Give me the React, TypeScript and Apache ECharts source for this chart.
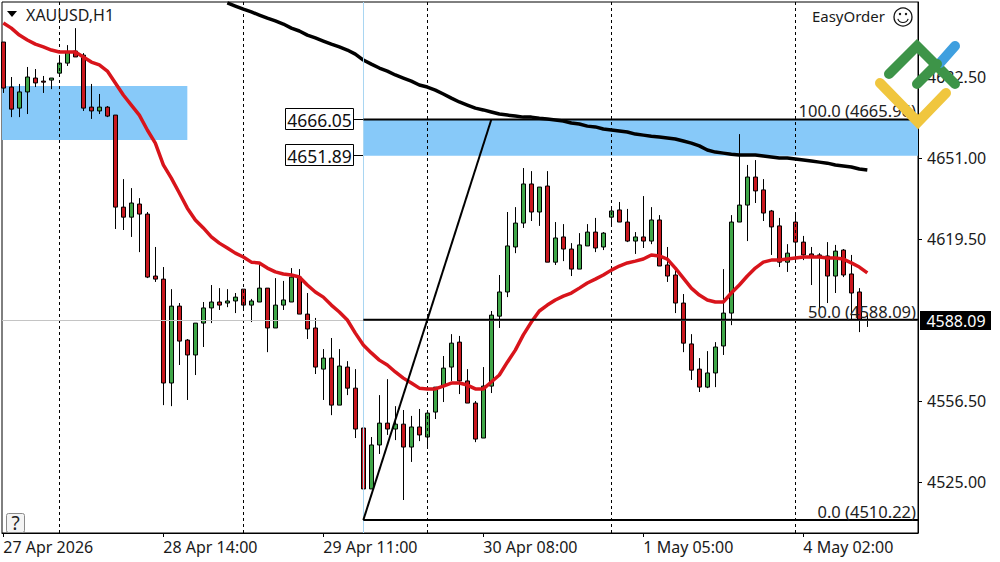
import React, { useEffect, useRef } from 'react';
import * as echarts from 'echarts';

const FONT = '"Noto Sans", sans-serif';

// hourly candles
const opens = [
  4696.1, 4678.6, 4670.4, 4676.7, 4682.1, 4680.9, 4681.3, 4684.0, 4687.9, 4692.6,
  4691.0, 4670.8, 4669.3, 4670.8, 4667.7, 4631.9, 4628.0, 4633.1, 4629.2, 4605.1,
  4603.9, 4563.5, 4593.4, 4580.2, 4574.4, 4586.8, 4592.7, 4595.0, 4594.6, 4595.4,
  4600.0, 4593.8, 4595.0, 4600.4, 4584.9, 4593.8, 4595.0, 4604.7, 4590.3, 4584.9,
  4568.9, 4573.2, 4554.9, 4569.7, 4561.5, 4546.0, 4522.3, 4539.4, 4547.9, 4545.6,
  4547.5, 4538.6, 4546.4, 4542.5, 4552.2, 4562.3, 4569.7, 4579.4, 4564.3, 4555.7,
  4542.1, 4562.3, 4589.5, 4598.9, 4616.4, 4625.7, 4640.9, 4630.0, 4640.1, 4610.5,
  4620.3, 4615.6, 4607.8, 4616.8, 4622.2, 4616.4, 4628.0, 4630.8, 4626.1, 4618.7,
  4620.3, 4618.7, 4626.9, 4609.4, 4605.5, 4594.6, 4578.7, 4568.9, 4561.9, 4567.4,
  4577.9, 4590.7, 4626.1, 4632.7, 4643.6, 4638.6, 4630.4, 4624.6, 4610.5, 4626.1,
  4618.3, 4613.7, 4613.3, 4612.9, 4605.1, 4615.2, 4605.9, 4598.9, 4588.09,
];
const closes = [
  4678.2, 4670.0, 4676.7, 4682.5, 4680.2, 4680.5, 4682.1, 4687.9, 4692.2, 4690.3,
  4670.4, 4669.3, 4670.8, 4667.3, 4631.9, 4628.0, 4633.5, 4629.2, 4604.7, 4603.9,
  4563.5, 4593.4, 4579.8, 4574.4, 4586.8, 4592.7, 4595.0, 4593.8, 4595.4, 4596.9,
  4593.8, 4595.4, 4600.4, 4584.9, 4593.8, 4595.8, 4604.7, 4590.3, 4584.5, 4569.7,
  4573.2, 4554.9, 4570.1, 4561.5, 4545.6, 4522.3, 4539.4, 4547.9, 4545.6, 4547.5,
  4538.6, 4546.4, 4543.3, 4551.8, 4561.9, 4569.3, 4579.0, 4564.3, 4555.7, 4541.7,
  4562.3, 4589.9, 4598.9, 4616.8, 4625.7, 4640.9, 4630.0, 4639.7, 4610.5, 4619.9,
  4615.6, 4607.8, 4617.2, 4622.2, 4616.0, 4621.8, 4630.4, 4626.1, 4618.7, 4620.3,
  4618.7, 4626.9, 4609.0, 4605.1, 4594.6, 4579.0, 4568.5, 4561.9, 4567.4, 4577.5,
  4590.7, 4626.1, 4632.7, 4643.6, 4638.2, 4629.6, 4624.2, 4610.5, 4614.0, 4618.3,
  4613.3, 4612.5, 4612.9, 4605.1, 4614.8, 4605.5, 4598.5, 4588.0, 4588.09,
];
const lows = [
  4676.3, 4666.9, 4666.9, 4668.1, 4678.6, 4676.3, 4677.8, 4682.5, 4686.8, 4690.3,
  4669.3, 4666.2, 4668.1, 4666.9, 4623.4, 4623.0, 4620.3, 4614.4, 4604.3, 4602.8,
  4554.9, 4554.5, 4570.5, 4556.9, 4566.6, 4577.5, 4586.8, 4591.9, 4593.0, 4590.7,
  4591.9, 4587.2, 4595.0, 4575.5, 4584.9, 4591.9, 4595.0, 4590.3, 4580.6, 4567.0,
  4556.9, 4551.0, 4554.9, 4558.8, 4542.1, 4510.2, 4522.3, 4535.9, 4543.3, 4541.3,
  4518.0, 4532.8, 4540.9, 4538.2, 4549.5, 4556.1, 4564.3, 4559.2, 4555.7, 4540.5,
  4542.1, 4559.6, 4584.9, 4596.9, 4614.0, 4623.8, 4626.5, 4624.6, 4610.5, 4609.4,
  4610.9, 4605.1, 4607.8, 4616.8, 4614.4, 4615.2, 4624.2, 4626.1, 4618.3, 4613.7,
  4616.0, 4617.5, 4609.0, 4602.8, 4590.7, 4575.5, 4564.7, 4560.0, 4561.5, 4561.9,
  4574.4, 4586.0, 4626.1, 4618.7, 4633.5, 4626.5, 4613.3, 4608.6, 4606.7, 4611.3,
  4611.3, 4601.6, 4592.7, 4594.6, 4598.5, 4604.7, 4588.0, 4583.3, 4585.3,
];
const highs = [
  4696.1, 4682.5, 4679.8, 4686.4, 4685.6, 4682.9, 4682.1, 4691.0, 4694.9, 4701.5,
  4691.8, 4679.8, 4675.9, 4671.2, 4667.7, 4642.8, 4639.3, 4635.4, 4630.0, 4616.4,
  4608.6, 4600.0, 4594.6, 4580.6, 4586.8, 4595.0, 4601.6, 4600.4, 4600.0, 4598.5,
  4600.0, 4596.2, 4610.5, 4600.4, 4604.3, 4603.2, 4608.2, 4607.8, 4598.5, 4588.8,
  4576.7, 4581.0, 4576.7, 4572.0, 4568.9, 4553.4, 4542.5, 4558.8, 4565.0, 4554.5,
  4553.0, 4550.7, 4553.4, 4551.8, 4561.9, 4574.0, 4582.5, 4581.8, 4568.9, 4556.5,
  4569.7, 4591.5, 4605.5, 4630.0, 4631.9, 4647.1, 4645.9, 4639.7, 4645.9, 4626.1,
  4625.3, 4617.9, 4621.8, 4625.3, 4627.7, 4622.2, 4631.5, 4633.9, 4631.2, 4622.2,
  4636.2, 4631.9, 4628.8, 4616.4, 4607.8, 4598.1, 4582.5, 4573.2, 4575.9, 4579.4,
  4607.8, 4628.8, 4660.3, 4648.3, 4650.2, 4642.8, 4630.8, 4627.7, 4617.5, 4630.0,
  4620.7, 4616.4, 4614.0, 4618.3, 4617.2, 4615.6, 4613.3, 4600.4, 4589.9,
];

// fast moving average (red)
const redMa = [
  4703.5, 4701.5, 4698.8, 4696.9, 4695.3, 4694.2, 4693.0, 4692.2, 4692.2, 4692.2,
  4690.3, 4688.3, 4687.2, 4684.8, 4680.2, 4675.5, 4671.6, 4667.7, 4661.9, 4656.8,
  4648.3, 4643.2, 4637.4, 4631.5, 4626.9, 4623.8, 4620.3, 4617.9, 4616.0, 4614.0,
  4612.5, 4610.5, 4610.2, 4608.2, 4606.7, 4605.9, 4605.5, 4604.7, 4601.6, 4598.9,
  4596.9, 4593.8, 4591.1, 4588.0, 4582.9, 4578.3, 4575.2, 4572.4, 4570.5, 4567.8,
  4565.4, 4563.5, 4561.5, 4561.2, 4561.2, 4562.3, 4563.5, 4563.5, 4562.7, 4561.2,
  4561.2, 4563.9, 4566.6, 4571.6, 4576.3, 4582.2, 4587.2, 4591.5, 4593.8, 4595.8,
  4597.3, 4598.5, 4600.4, 4602.4, 4603.9, 4605.5, 4607.4, 4609.0, 4610.2, 4610.9,
  4611.7, 4613.3, 4612.9, 4611.7, 4608.2, 4604.3, 4600.4, 4597.7, 4595.8, 4595.0,
  4595.0, 4598.5, 4601.6, 4605.1, 4608.2, 4610.5, 4611.3, 4611.3, 4611.7, 4612.1,
  4612.5, 4612.5, 4612.5, 4612.1, 4612.1, 4611.7, 4610.2, 4608.6, 4606.3,
];

// slow moving average (black), comes into view at candle 28
const blackMaStart = 28;
const blackMa = [
  4711.3, 4710.1, 4708.9, 4707.8, 4706.6, 4705.4, 4704.3, 4703.1, 4701.5, 4700.4,
  4698.8, 4697.7, 4696.5, 4695.3, 4694.2, 4693.0, 4691.4, 4689.1, 4687.5, 4686.0,
  4684.8, 4683.3, 4682.1, 4680.9, 4679.4, 4678.6, 4677.4, 4675.9, 4674.3, 4672.8,
  4671.6, 4670.4, 4669.7, 4668.9, 4668.1, 4667.7, 4667.3, 4666.9, 4666.9, 4666.5,
  4666.2, 4665.8, 4665.4, 4664.6, 4664.2, 4663.4, 4663.1, 4662.3, 4661.9, 4661.5,
  4661.1, 4660.3, 4659.9, 4659.5, 4659.2, 4658.8, 4658.4, 4657.6, 4656.8, 4655.7,
  4654.1, 4653.3, 4652.9, 4652.5, 4652.2, 4652.2, 4652.2, 4651.8, 4651.4, 4651.0,
  4651.0, 4650.6, 4650.2, 4649.8, 4649.4, 4649.0, 4648.3, 4647.9, 4647.5, 4646.7,
  4646.3,
];

const priceTicks = [4682.5, 4651.0, 4619.5, 4556.5, 4525.0];
const timeTicks = [0, 20, 40, 60, 80, 100];
const timeLabels = ['27 Apr 2026', '28 Apr 14:00', '29 Apr 11:00', '30 Apr 08:00', '1 May 05:00', '4 May 02:00'];
const periodLines = [7, 30, 53, 76, 99];

const fibStart = 45;
const fibTop = 4665.96;
const fibMid = 4588.09;
const fibBottom = 4510.22;
const trendEnd = 61;
const leftZone = { from: -0.17, to: 23, top: 4679.0, bottom: 4658.0 };
const rightZone = { from: 45, top: 4666.05, bottom: 4651.89 };

const xMin = -0.166;
const xMax = 114.334;

const RED = '#c8171e';
const GREEN = '#3fa648';
const ZONE = '#87c9f9';

const txt = (text: string, x: number, y: number, fontSize: number, align = 'left', fill = '#1a1a1a') => ({
  type: 'text',
  x,
  y,
  z: 50,
  style: { text, fontSize, fontFamily: FONT, fill, align, verticalAlign: 'middle' },
});

const logoLine = (points: number[][], stroke: string) => ({
  type: 'polyline',
  z: 60,
  shape: { points },
  style: { stroke, lineWidth: 10, lineCap: 'round', lineJoin: 'miter', fill: 'none' },
});

const App: React.FC = () => {
  const chartRef = useRef<HTMLDivElement | null>(null);

  useEffect(() => {
    document.body.style.margin = '0';
    if (chartRef.current) {
      const myChart = echarts.init(chartRef.current, undefined, { renderer: 'svg' });

      const candles = opens.map((o, i) => [i, o, closes[i], lows[i], highs[i]]);

      const option: any = {
        animation: false,
        backgroundColor: '#fff',
        grid: { left: 2, top: 2, width: 916, height: 531, show: true, borderColor: '#000', borderWidth: 1, backgroundColor: '#fff' },
        xAxis: {
          type: 'value',
          min: xMin,
          max: xMax,
          splitLine: { show: false },
          axisLine: { show: true, onZero: false, lineStyle: { color: '#000' } },
          axisTick: { show: true, length: 4, customValues: timeTicks, lineStyle: { color: '#000' } },
          axisLabel: {
            customValues: timeTicks,
            align: 'left',
            margin: 6,
            fontSize: 16,
            fontFamily: FONT,
            color: '#1a1a1a',
            formatter: (v: number) => timeLabels[timeTicks.indexOf(Math.round(v))] ?? '',
          },
        },
        yAxis: {
          type: 'value',
          position: 'right',
          min: 4505.17,
          max: 4711.67,
          splitLine: { show: false },
          axisLine: { show: true, onZero: false, lineStyle: { color: '#000' } },
          axisTick: { show: true, length: 4, customValues: priceTicks, lineStyle: { color: '#000' } },
          axisLabel: {
            customValues: priceTicks,
            margin: 9,
            fontSize: 16,
            fontFamily: FONT,
            color: '#1a1a1a',
            formatter: (v: number) => v.toFixed(2),
          },
        },
        series: [
          {
            // supply and demand zones, guides
            type: 'line',
            data: [],
            z: 1,
            silent: true,
            markArea: {
              silent: true,
              itemStyle: { color: ZONE },
              data: [
                [{ coord: [leftZone.from, leftZone.top] }, { coord: [leftZone.to, leftZone.bottom] }],
                [{ coord: [rightZone.from, rightZone.top] }, { coord: [xMax, rightZone.bottom] }],
              ],
            },
            markLine: {
              silent: true,
              symbol: 'none',
              label: { show: false },
              lineStyle: { color: '#000', type: [3, 3], width: 1 },
              data: [
                ...periodLines.map((x) => ({ xAxis: x })),
                { xAxis: fibStart, lineStyle: { color: '#a9d6f2', type: 'solid', width: 1 } },
                { yAxis: fibMid, lineStyle: { color: '#c4c4c4', type: 'solid', width: 1 } },
              ],
            },
          },
          {
            type: 'candlestick',
            data: candles,
            z: 3,
            barWidth: 5,
            itemStyle: { color: GREEN, color0: RED, borderColor: '#000', borderColor0: '#000', borderWidth: 1 },
          },
          {
            type: 'line',
            z: 4,
            data: blackMa.map((v, i) => [i + blackMaStart, v]),
            symbol: 'none',
            lineStyle: { color: '#000', width: 3.5 },
          },
          {
            type: 'line',
            z: 5,
            data: redMa.map((v, i) => [i, v]),
            symbol: 'none',
            lineStyle: { color: '#d8141b', width: 3.5 },
          },
          ...[fibTop, fibMid, fibBottom].map((v) => ({
            type: 'line',
            z: 6,
            data: [[fibStart, v], [xMax, v]],
            symbol: 'none',
            lineStyle: { color: '#000', width: 2 },
          })),
          {
            type: 'line',
            z: 6,
            data: [[fibStart, fibBottom], [trendEnd, fibTop]],
            symbol: 'none',
            lineStyle: { color: '#000', width: 2 },
          },
        ],
        graphic: {
          elements: [
            { type: 'polygon', z: 50, shape: { points: [[7, 11], [17, 11], [12, 17]] }, style: { fill: '#000' } },
            txt('XAUUSD,H1', 26, 15, 16),
            txt('EasyOrder', 885, 16, 15, 'right'),
            { type: 'circle', z: 50, shape: { cx: 903, cy: 17, r: 9 }, style: { fill: 'none', stroke: '#111', lineWidth: 1.3 } },
            { type: 'circle', z: 50, shape: { cx: 900, cy: 14, r: 1.2 }, style: { fill: '#111' } },
            { type: 'circle', z: 50, shape: { cx: 906, cy: 14, r: 1.2 }, style: { fill: '#111' } },
            { type: 'arc', z: 50, shape: { cx: 903, cy: 17, r: 5.5, startAngle: 0.35, endAngle: 2.8 }, style: { fill: 'none', stroke: '#111', lineWidth: 1.2 } },

            // price labels on the left of the zone
            { type: 'rect', z: 50, shape: { x: 285.5, y: 108.5, width: 68, height: 21 }, style: { fill: '#fff', stroke: '#000', lineWidth: 1 } },
            txt('4666.05', 319.5, 119.5, 17.5, 'center', '#111'),
            { type: 'rect', z: 50, shape: { x: 285.5, y: 144.5, width: 68, height: 21 }, style: { fill: '#fff', stroke: '#000', lineWidth: 1 } },
            txt('4651.89', 319.5, 155.5, 17.5, 'center', '#111'),
            { type: 'line', z: 50, shape: { x1: 354, y1: 119.5, x2: 363, y2: 119.5 }, style: { stroke: '#000', lineWidth: 1 } },
            { type: 'line', z: 50, shape: { x1: 354, y1: 155.5, x2: 363, y2: 155.5 }, style: { stroke: '#000', lineWidth: 1 } },

            // fibonacci levels
            txt('100.0 (4665.96)', 916, 110, 16.5, 'right', '#222'),
            txt('50.0 (4588.09)', 916, 311, 16.5, 'right', '#222'),
            txt('0.0 (4510.22)', 916, 511, 16.5, 'right', '#222'),

            // current price tag
            { type: 'rect', z: 50, shape: { x: 920, y: 311, width: 71, height: 19 }, style: { fill: '#000' } },
            txt('4588.09', 956, 320.5, 16, 'center', '#fff'),

            // help button
            { type: 'rect', z: 50, shape: { x: 6.5, y: 513.5, width: 18, height: 19, r: 2 }, style: { fill: '#f4f4f4', stroke: '#8a8a8a', lineWidth: 1 } },
            txt('?', 15.5, 523, 19, 'center', '#222'),

            // logo
            logoLine([[889, 74], [917, 46], [955, 84]], '#3d9448'),
            logoLine([[940, 63], [955, 46]], '#3f9fdf'),
            logoLine([[917, 84], [937, 64]], '#3d9448'),
            logoLine([[880, 83], [918, 122], [946, 93]], '#f0c63e'),
          ],
        },
      };

      myChart.setOption(option);

      return () => {
        myChart.dispose();
      };
    }
  }, []);

  return <div ref={chartRef} style={{ width: 1000, height: 562 }}></div>;
};

export default App;
